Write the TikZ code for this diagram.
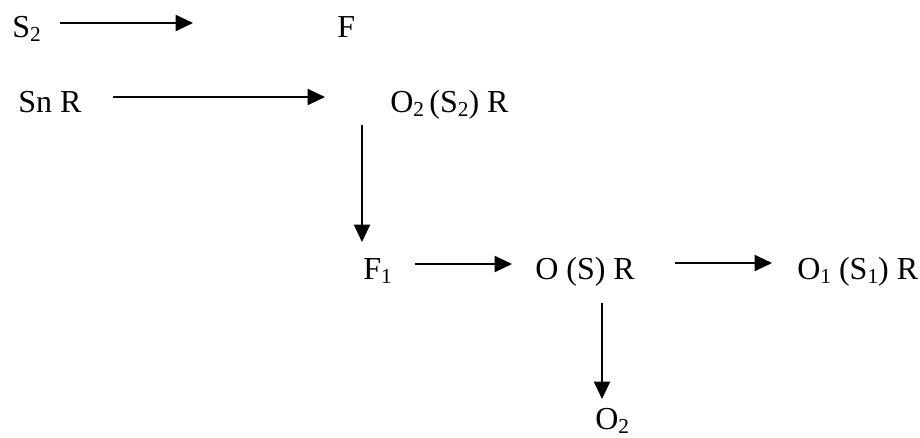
\documentclass[tikz,border=0pt]{standalone}
\usepackage{fontspec}
\setmainfont{Liberation Serif}
\usetikzlibrary{arrows.meta}
\newcommand{\lowsub}[1]{\raisebox{-0.15em}{\fontsize{16pt}{16pt}\selectfont #1}}
\tikzset{
  lbl/.style={anchor=base west, inner sep=0pt, font=\fontsize{24pt}{28pt}\selectfont},
  arr/.style={line width=1.5pt, -{Triangle[length=13pt,width=12pt]}}
}
\begin{document}
\begin{tikzpicture}[x=0.75pt,y=-0.75pt]
\useasboundingbox (0,0) rectangle (920,437);
% labels
\node[lbl] (s2) at (12,37) {S\lowsub{2}};
\node[lbl] (f) at (337,37) {F};
\node[lbl] (snr) at (18,112) {Sn R};
\node[lbl] (o2s2r) at (390,112) {O\lowsub{2}\,(S\lowsub{2}) R};
\node[lbl] (f1) at (363,279) {F\lowsub{1}};
\node[lbl] (osr) at (535,279) {O (S) R};
\node[lbl] (o1s1r) at (797,279) {O\lowsub{1} (S\lowsub{1}) R};
\node[lbl] (o2) at (595,429) {O\lowsub{2}};
% arrow end points
\coordinate (a1s) at (60,23);   \coordinate (a1e) at (193,23);
\coordinate (a2s) at (113,97);  \coordinate (a2e) at (325,97);
\coordinate (a3s) at (362,125); \coordinate (a3e) at (362,242);
\coordinate (a4s) at (415,264); \coordinate (a4e) at (512,264);
\coordinate (a5s) at (675,263); \coordinate (a5e) at (772,263);
\coordinate (a6s) at (602,303); \coordinate (a6e) at (602,399);
% arrows
\draw[arr] (a1s) -- (a1e);
\draw[arr] (a2s) -- (a2e);
\draw[arr] (a3s) -- (a3e);
\draw[arr] (a4s) -- (a4e);
\draw[arr] (a5s) -- (a5e);
\draw[arr] (a6s) -- (a6e);
\end{tikzpicture}
\end{document}
